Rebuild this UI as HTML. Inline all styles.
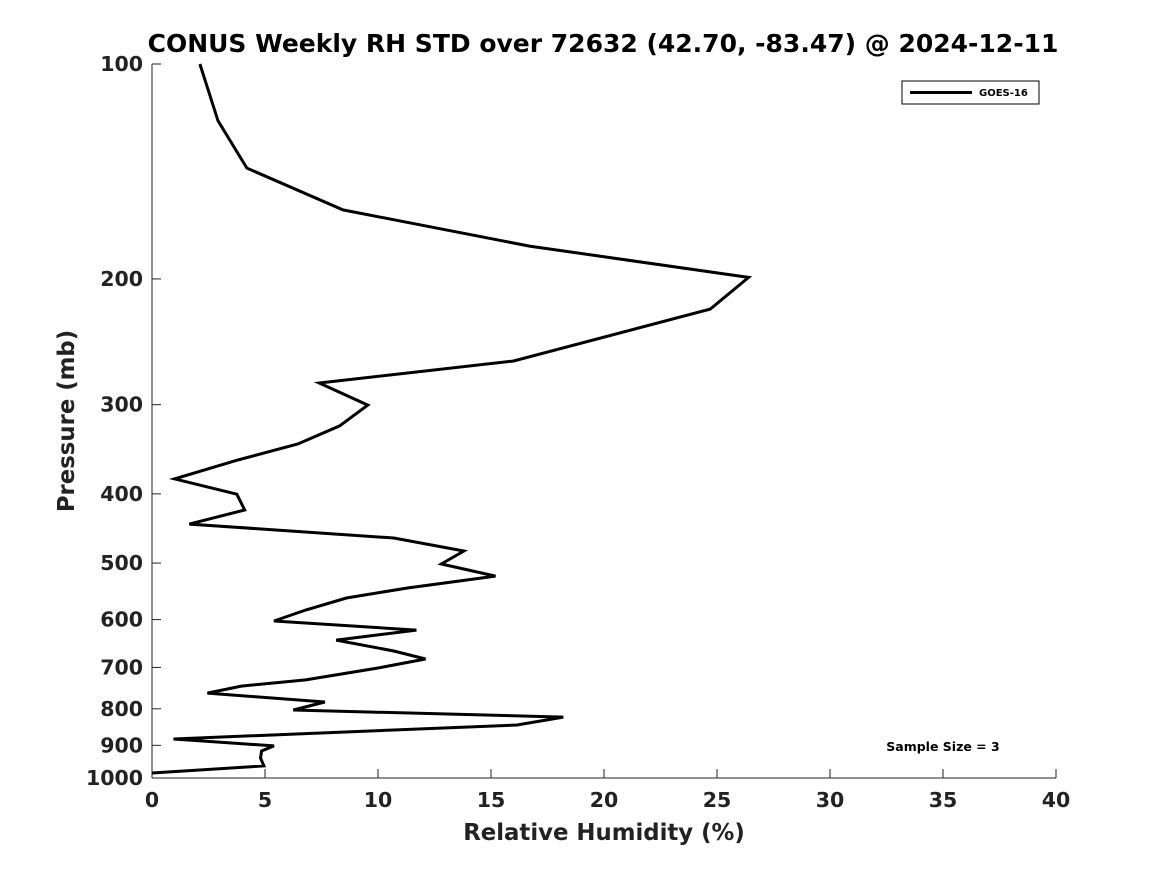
<!DOCTYPE html>
<html><head><meta charset="utf-8"><style>
body{margin:0;background:#fff;}
svg{display:block;font-family:"DejaVu Sans","Liberation Sans",sans-serif;}
</style></head><body>
<svg id="chart" width="1167" height="875" viewBox="0 0 1167 875">
<rect width="1167" height="875" fill="#fff"/>
<text x="603" y="52" text-anchor="middle" font-size="25" font-weight="bold" fill="#000">CONUS Weekly RH STD over 72632 (42.70, -83.47) @ 2024-12-11</text>
<g id="axes"></g>
<g id="series"></g>
<g>
<rect x="902" y="81" width="137" height="23" fill="#fff" stroke="#000" stroke-width="1"/>
<line x1="910" y1="92.5" x2="972" y2="92.5" stroke="#000" stroke-width="3"/>
<text x="979" y="96" font-size="10" font-weight="bold">GOES-16</text>
</g>
<text x="943" y="751" text-anchor="middle" font-size="12.5" font-weight="bold">Sample Size = 3</text>
<text x="604" y="840" text-anchor="middle" font-size="22.8" font-weight="bold" fill="#222">Relative Humidity (%)</text>
<text transform="translate(74,421) rotate(-90)" text-anchor="middle" font-size="22.8" font-weight="bold" fill="#222">Pressure (mb)</text>
</svg>
<script>
const xTicks=[0,5,10,15,20,25,30,35,40];
const yTicks=[100,200,300,400,500,600,700,800,900,1000];
const rhValues=[2.12,2.92,4.2,8.45,16.7,26.4,24.7,16.0,7.4,9.55,8.3,6.45,3.8,1.0,3.75,4.1,1.65,10.7,13.8,12.8,15.2,11.3,8.6,6.8,5.4,11.7,8.15,10.7,12.1,10.0,6.8,3.95,2.45,7.65,6.25,18.2,16.15,0.95,5.4,4.85,4.8,4.95,0];
const pressures=[100,120.1,139.9,160.1,179.9,199,220.4,260.6,279.8,300.4,321.3,340.6,358.6,381.2,400.4,421.3,441,461.2,480.9,501.5,521.4,541.8,559.7,581.8,602.8,620.7,641,664,681.3,701.3,728.7,743.4,760.5,782.6,803.1,821.7,842.8,881.8,901.7,916.6,937.5,961.6,984];
const X0=152,X1=1056,Y0=64,Y1=778;
const xs=v=>X0+(v-0)/(40-0)*(X1-X0);
const ys=p=>Y0+(Math.log10(p)-2)/(1)*(Y1-Y0);
const NS="http://www.w3.org/2000/svg";
const axes=document.getElementById('axes');
function mk(t,a,p){const e=document.createElementNS(NS,t);for(const k in a)e.setAttribute(k,a[k]);p.appendChild(e);return e;}
const xa=mk('line',{x1:X0,y1:Y1,x2:X1,y2:Y1,stroke:'#222','stroke-width':1},axes);


const ya=mk('line',{x1:X0,y1:Y0,x2:X0,y2:Y1,stroke:'#222','stroke-width':1},axes);


xTicks.forEach(v=>{
  const x=xs(v);
  mk('line',{x1:x,y1:Y1,x2:x,y2:Y1-9,stroke:'#222'},axes);
  const t=mk('text',{x:x,y:Y1+29,'text-anchor':'middle','font-size':20.5,'font-weight':'bold',fill:'#222'},axes);
  t.textContent=v;
  
  
});
yTicks.forEach(p=>{
  const y=ys(p);
  mk('line',{x1:X0,y1:y,x2:X0+9,y2:y,stroke:'#222'},axes);
  const t=mk('text',{x:X0-9,y:y+7,'text-anchor':'end','font-size':20.5,'font-weight':'bold',fill:'#222'},axes);
  t.textContent=p;
  
  
});
const pts=rhValues.map((v,i)=>xs(v).toFixed(1)+','+ys(pressures[i]).toFixed(1)).join(' ');
const line=mk('polyline',{points:pts,fill:'none',stroke:'#000','stroke-width':3,'stroke-linejoin':'miter'},document.getElementById('series'));


</script>
</body></html>
